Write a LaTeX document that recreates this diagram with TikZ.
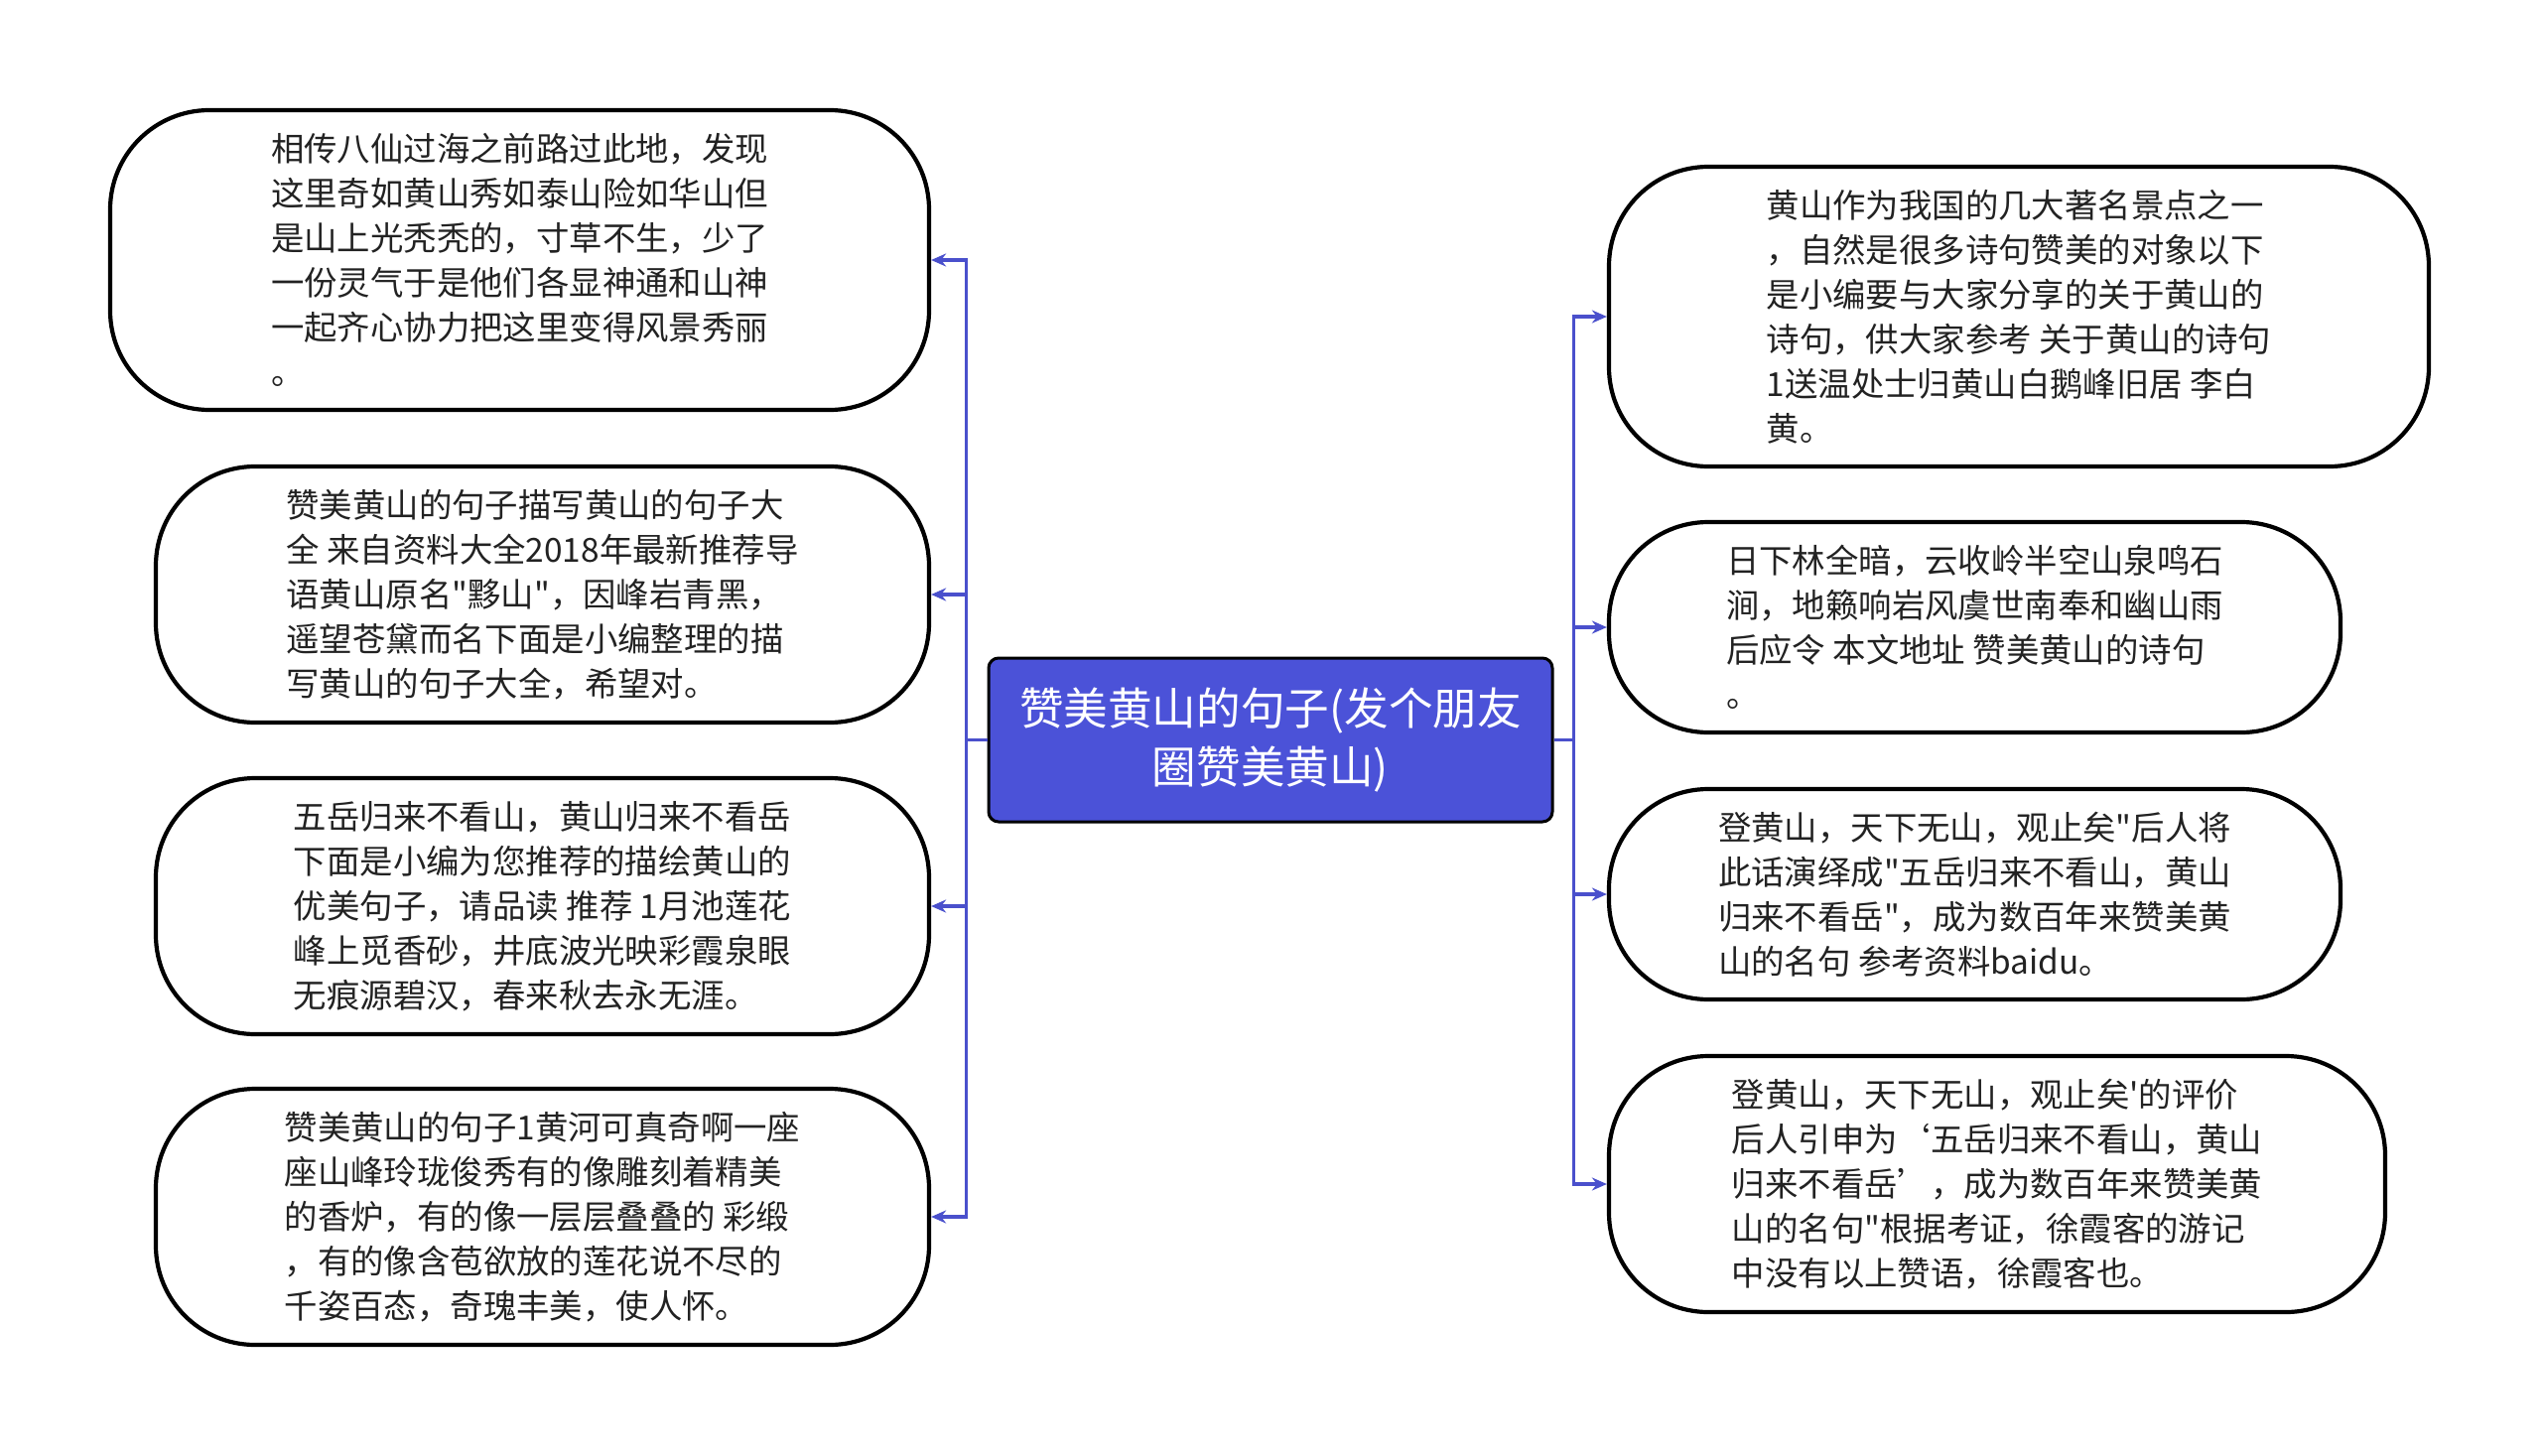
\documentclass[tikz,border=0pt]{standalone}
\usepackage{fontspec}
\newfontfamily\cjkfont{Noto Sans CJK SC}
\usepackage{xcolor}
\usepackage{tikz}
\usetikzlibrary{positioning,arrows.meta}

\definecolor{hubblue}{HTML}{4B52D8}
\definecolor{linkblue}{HTML}{4A50CC}
\definecolor{inkgray}{HTML}{222222}

\begin{document}
\begin{tikzpicture}[x=0.5pt, y=-0.5pt, font=\cjkfont,
  hub/.style={draw=black, line width=1.5pt, fill=hubblue, rounded corners=5pt, text=white, align=center,
  inner sep=0pt, minimum width=284pt, minimum height=82.5pt, font=\cjkfont\fontsize{22.3}{29.5}\selectfont},
  leaf/.style={draw=black, line width=2.1pt, fill=white, rounded corners=50pt, text=inkgray, align=left,
  inner sep=0pt, minimum height=129pt, font=\cjkfont\fontsize{16.7}{22.5}\selectfont},
  link/.style={draw=linkblue, line width=1.7pt, -{Stealth[length=7.5pt,width=6.5pt]}}]
  \useasboundingbox (0,0) rectangle (2560,1467);
  \node[hub] (hub) at (1280,745.5) {赞美黄山的句子(发个朋友\\圈赞美黄山)};
  % left side
  \node[leaf, minimum width=412.5pt, minimum height=151pt] (l1) at (523.5,262) {相传八仙过海之前路过此地，发现\\这里奇如黄山秀如泰山险如华山但\\是山上光秃秃的，寸草不生，少了\\一份灵气于是他们各显神通和山神\\一起齐心协力把这里变得风景秀丽\\。};
  \node[leaf, minimum width=389.5pt] (l2) at (546.5,599) {赞美黄山的句子描写黄山的句子大\\全 来自资料大全2018年最新推荐导\\语黄山原名"黟山"，因峰岩青黑，\\遥望苍黛而名下面是小编整理的描\\写黄山的句子大全，希望对。};
  \node[leaf, minimum width=389.5pt] (l3) at (546.5,913) {五岳归来不看山，黄山归来不看岳\\下面是小编为您推荐的描绘黄山的\\优美句子，请品读 推荐 1月池莲花\\峰上觅香砂，井底波光映彩霞泉眼\\无痕源碧汉，春来秋去永无涯。};
  \node[leaf, minimum width=389.5pt] (l4) at (546.5,1226) {赞美黄山的句子1黄河可真奇啊一座\\座山峰玲珑俊秀有的像雕刻着精美\\的香炉，有的像一层层叠叠的 彩缎\\，有的像含苞欲放的莲花说不尽的\\千姿百态，奇瑰丰美，使人怀。};
  % right side
  \node[leaf, minimum width=413pt, minimum height=151pt] (r1) at (2034,319) {黄山作为我国的几大著名景点之一\\，自然是很多诗句赞美的对象以下\\是小编要与大家分享的关于黄山的\\诗句，供大家参考 关于黄山的诗句\\1送温处士归黄山白鹅峰旧居 李白\\黄。};
  \node[leaf, minimum width=368.5pt, minimum height=106pt] (r2) at (1989.5,632) {日下林全暗，云收岭半空山泉鸣石\\涧，地籁响岩风虞世南奉和幽山雨\\后应令 本文地址 赞美黄山的诗句\\。};
  \node[leaf, minimum width=368.5pt, minimum height=106pt] (r3) at (1989.5,901) {登黄山，天下无山，观止矣"后人将\\此话演绎成"五岳归来不看山，黄山\\归来不看岳"，成为数百年来赞美黄\\山的名句 参考资料baidu。};
  \node[leaf, minimum width=391pt] (r4) at (2012,1193) {登黄山，天下无山，观止矣'的评价\\后人引申为‘五岳归来不看山，黄山\\归来不看岳’，成为数百年来赞美黄\\山的名句"根据考证，徐霞客的游记\\中没有以上赞语，徐霞客也。};
  \foreach \n in {l1,l2,l3,l4}
    \draw[link] (hub.west) -- ++(-21,0) |- (\n.east);
  \foreach \n in {r1,r2,r3,r4}
    \draw[link] (hub.east) -- ++(20,0) |- (\n.west);
\end{tikzpicture}
\end{document}
